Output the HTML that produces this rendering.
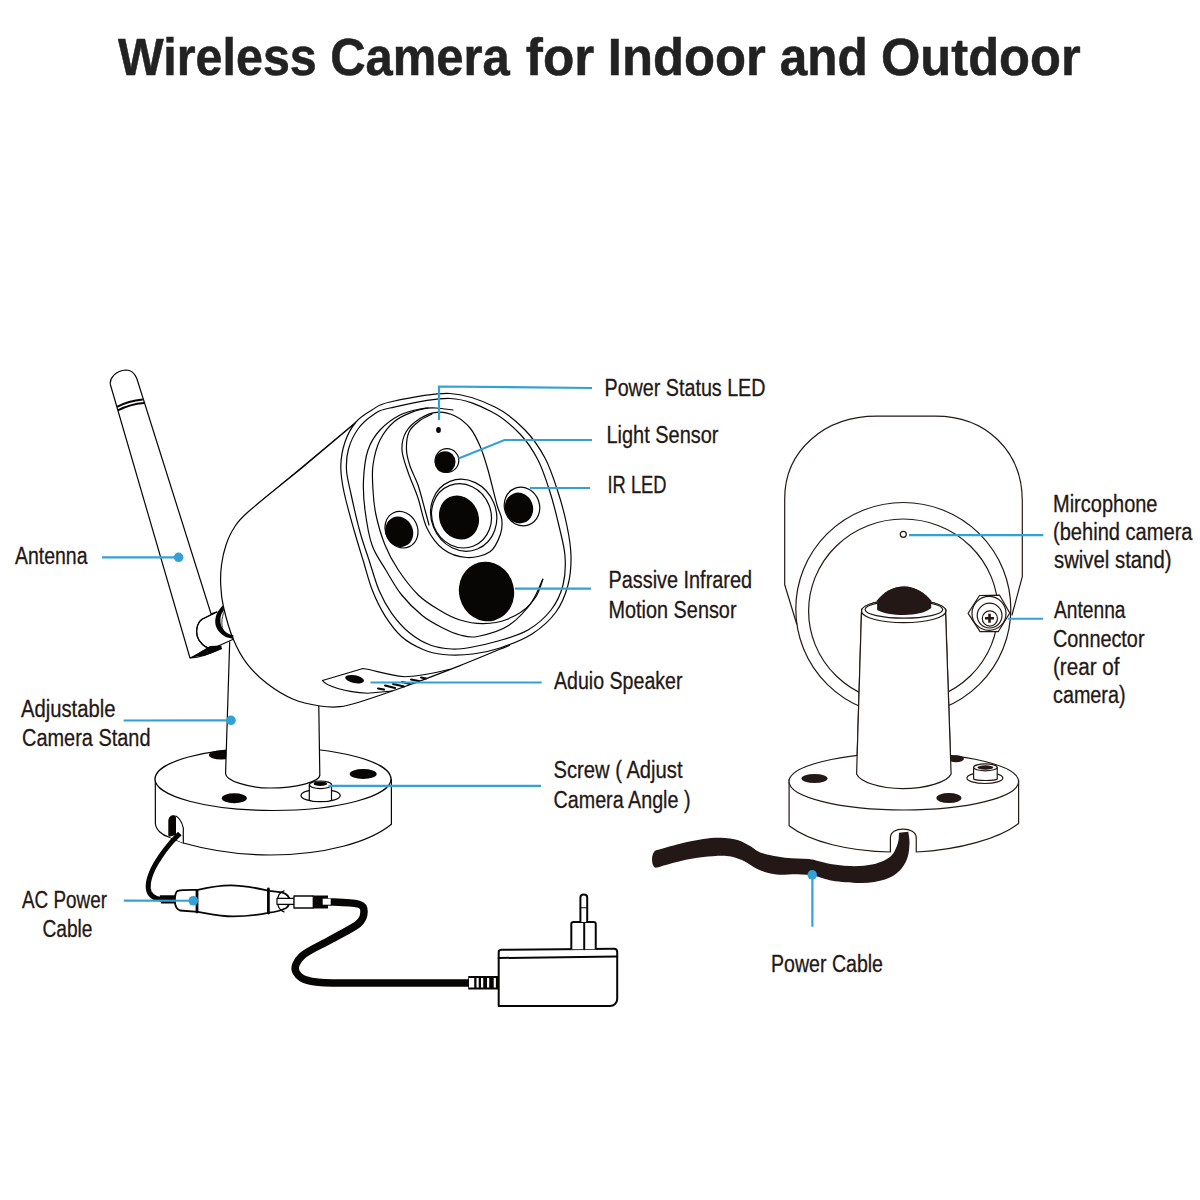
<!DOCTYPE html>
<html><head><meta charset="utf-8">
<style>
html,body{margin:0;padding:0;background:#fff;}
svg{display:block;}
.t{font-family:"Liberation Sans",sans-serif;font-size:23.5px;fill:#231815;stroke:#231815;stroke-width:0.3;}
.ttl{font-family:"Liberation Sans",sans-serif;font-weight:bold;font-size:51px;fill:#222;stroke:#222;stroke-width:0.5;}
.ld{stroke:#33a0d8;stroke-width:2.2;fill:none;}
.dot{fill:#33a0d8;}
.L{--c:#080505;}
.R{--c:#231815;}
.k{stroke:var(--c);fill:none;stroke-width:1.2;stroke-linecap:round;stroke-linejoin:round;}
.kw{stroke:var(--c);fill:#fff;stroke-width:1.2;stroke-linejoin:round;}
.k2{stroke:var(--c);fill:none;stroke-width:2;stroke-linecap:round;stroke-linejoin:round;}
.k2w{stroke:var(--c);fill:#fff;stroke-width:2;stroke-linejoin:round;}
.f{fill:var(--c);}
.w{fill:#fff;}
</style></head>
<body>
<svg width="1200" height="1200" viewBox="0 0 1200 1200">
<g class="ttl">
<text x="118.0" y="75" textLength="198.8" lengthAdjust="spacingAndGlyphs">Wireless</text>
<text x="330.2" y="75" textLength="179.6" lengthAdjust="spacingAndGlyphs">Camera</text>
<text x="525.8" y="75" textLength="68.4" lengthAdjust="spacingAndGlyphs">for</text>
<text x="607.8" y="75" textLength="158.0" lengthAdjust="spacingAndGlyphs">Indoor</text>
<text x="779.8" y="75" textLength="88.0" lengthAdjust="spacingAndGlyphs">and</text>
<text x="881.0" y="75" textLength="199.6" lengthAdjust="spacingAndGlyphs">Outdoor</text>
</g>
<g class="t">
<text x="604.5" y="395.6" textLength="161.0" lengthAdjust="spacingAndGlyphs">Power Status LED</text>
<text x="606.5" y="443.4" textLength="112.0" lengthAdjust="spacingAndGlyphs">Light Sensor</text>
<text x="607.5" y="492.5" textLength="59.0" lengthAdjust="spacingAndGlyphs">IR LED</text>
<text x="608.5" y="588.4" textLength="143.5" lengthAdjust="spacingAndGlyphs">Passive Infrared</text>
<text x="608.5" y="617.5" textLength="128.0" lengthAdjust="spacingAndGlyphs">Motion Sensor</text>
<text x="554.0" y="688.7" textLength="128.5" lengthAdjust="spacingAndGlyphs">Aduio Speaker</text>
<text x="553.5" y="778" textLength="129.0" lengthAdjust="spacingAndGlyphs">Screw ( Adjust</text>
<text x="553.5" y="807.5" textLength="137.0" lengthAdjust="spacingAndGlyphs">Camera Angle )</text>
<text x="1053.0" y="512.4" textLength="104.5" lengthAdjust="spacingAndGlyphs">Mircophone</text>
<text x="1053.0" y="540.2" textLength="139.5" lengthAdjust="spacingAndGlyphs">(behind camera</text>
<text x="1054.0" y="568.4" textLength="117.5" lengthAdjust="spacingAndGlyphs">swivel stand)</text>
<text x="1054.0" y="618" textLength="71.5" lengthAdjust="spacingAndGlyphs">Antenna</text>
<text x="1053.0" y="647" textLength="91.5" lengthAdjust="spacingAndGlyphs">Connector</text>
<text x="1053.0" y="675" textLength="66.5" lengthAdjust="spacingAndGlyphs">(rear of</text>
<text x="1053.0" y="703" textLength="72.5" lengthAdjust="spacingAndGlyphs">camera)</text>
<text x="15.0" y="563.6" textLength="72.5" lengthAdjust="spacingAndGlyphs">Antenna</text>
<text x="21.0" y="717" textLength="94.5" lengthAdjust="spacingAndGlyphs">Adjustable</text>
<text x="22.0" y="746" textLength="128.5" lengthAdjust="spacingAndGlyphs">Camera Stand</text>
<text x="22.0" y="907.6" textLength="85.0" lengthAdjust="spacingAndGlyphs">AC Power</text>
<text x="42.5" y="937" textLength="50.0" lengthAdjust="spacingAndGlyphs">Cable</text>
<text x="771.0" y="972.3" textLength="112.0" lengthAdjust="spacingAndGlyphs">Power Cable</text>
</g>
<g class="L">
<path class="kw" d="M155.3 778 L155.4 823.75 C156 830 162 835 169.2 837.3 L183.3 843 C215 852 240 855 270 855 C325 855 370 842 391.4 824.3 L391.4 778.8" />
<ellipse class="kw" cx="273" cy="779" rx="118" ry="31.5" />
<ellipse class="f" cx="221" cy="755" rx="12" ry="4.5" />
<ellipse class="f" cx="363.2" cy="774" rx="13.5" ry="5" />
<ellipse class="f" cx="234.3" cy="798.3" rx="12.5" ry="5" />
<path class="w" d="M169.5 837 L168.3 837 L168.3 821 C168.3 817 171 815.2 173.3 815.2 C176 815.2 178 816 181 819.5 C183 822.5 183.3 826 183.3 829 L183.3 843 Z" />
<path class="k" d="M175.8 816 C178 817 182 821 183.3 828 L183.3 843" />
<path class="f" d="M168.3 837 L168.3 821 C168.3 817 171 815.2 173.3 815.2 C176 815.2 176 817 176 820 L176 835 Z" />
<ellipse class="kw" cx="320.6" cy="795.5" rx="19.6" ry="6.2" />
<path class="w" d="M309.3 785 L309.3 799.5 C315 801.5 326 801.5 331.5 799.5 L331.5 785 Z" />
<path class="k" d="M309.3 785 L309.3 799.5 M331.5 799.5 L331.5 785" />
<ellipse class="kw" cx="320.5" cy="784.8" rx="11.1" ry="3.8" />
<ellipse class="f" cx="320.4" cy="783.7" rx="6.8" ry="2.3" />
<path class="w" d="M229.7 642 L225.6 772.3 C224 781 250 788 270 788 C295 788 321 782 319.8 774.5 L318.75 700 Z" />
<path class="k" d="M229.7 642 L225.6 772.3 C224 781 250 788 270 788 C295 788 321 782 319.8 774.5 L318.75 704" />
<path class="k" d="M356.7 421.7 L252 509 " />
<path class="kw" d="M356.7 421.7 L300 469.5 C291.3 476.6 259 502.2 248 512C237 521.8 237.7 522.5 234 528C230.3 533.5 228.1 538.8 226 545C223.9 551.2 222.4 558.3 221.5 565C220.6 571.7 220.4 578 220.7 585C221 592 221.4 598 223.5 607C225.6 616 229.4 629.9 233.3 639.3C237.2 648.7 241.1 656 246.7 663.3C252.3 670.6 258.9 677.3 266.7 683.3C274.5 689.3 284.4 695.5 293.3 699.3C302.2 703.1 312.2 704.8 320 706C327.8 707.2 333.7 707.3 340 706.7C346.3 706.1 347.2 705.9 358 702.5C368.8 699.1 388 692.6 405 686.5C422 680.4 442.5 672.5 460 665.6C477.5 658.7 501.7 648.4 510 645" />
<path class="kw" d="M190 658 L110.5 385 C109 378 116 370.5 126 370 C132 370 135 374 136.9 378.75 L211 613.7 L216.7 612 L202 619.3 C196 624 195 634 199.3 640.7 C203 646 208 648.7 212 648.7 L190 658 Z" />
<path class="k2" d="M117 406.8 C125 402.5 134 400.2 142.8 399.4" style="stroke-linecap:butt"/>
<path class="k2" d="M117.9 410.4 C126 406.3 135 403.8 144 403.1" style="stroke-linecap:butt"/>
<path class="k" d="M216.7 612 L202 619.3 C196 624 195 634 199.3 640.7 C203 646 208 648.7 212 648.7 L233.3 639.3" />
<path class="f" d="M222.7 605.3C221.7 606.8 217.9 611 216.7 614C215.5 617 215 620.4 215.3 623.3C215.6 626.2 217 629.1 218.7 631.3C220.4 633.5 222.9 635.5 225.3 636.7C227.7 637.9 232 638.4 233.3 638.7 L233.3 635.3C232.2 634.9 228.7 634.2 226.7 632.7C224.7 631.2 222.3 628.7 221.3 626C220.3 623.3 220.2 619.4 220.7 616.7C221.1 614 223.4 611.1 224 610 Z" />
<path class="k" d="M224.5 611 C221 618 221 627 224 632 C226 635 229 637 232 638" style="stroke-width:0.8"/>
<path class="f" d="M190.5 657.5 L210 646 L221.3 645.5 L221.8 649 L205 655.5 Z" />
<path class="k" d="M190.5 657.8 C200 658 212 653 221.5 648.5" />
<path class="kw" d="M390 402C403 399.2 432.5 392.7 450 393.5C467.5 394.3 482.5 400.9 495 407C507.5 413.1 516.7 421.5 525 430C533.3 438.5 539.5 447.7 545 458C550.5 468.3 554.3 480.7 558 492C561.7 503.3 564.8 515.3 567 526C569.2 536.7 570.8 546.2 571 556C571.2 565.8 570.5 575.7 568 585C565.5 594.3 562 603.8 556 612C550 620.2 541.3 628 532 634C522.7 640 509.8 644.7 500 648C490.2 651.3 482.4 652.9 473 654C463.6 655.1 451.7 655.3 443.3 654.5C434.9 653.7 429.4 652.2 422.5 649.2C415.6 646.2 407.9 642.3 401.7 636.7C395.4 631.1 389.9 623.4 385 615.8C380.1 608.1 376.2 600.1 372.5 590.8C368.8 581.5 366.1 570.1 363 560C359.9 549.9 357.2 541.3 354 530C350.8 518.7 346.2 502.7 344 492C341.8 481.3 340.6 474.3 340.8 466C341 457.7 342.5 449.3 345 442C347.5 434.7 351.5 427.3 356 422C360.5 416.7 366.3 413.3 372 410C377.7 406.7 377 404.8 390 402Z" />
<path class="k" d="M390 408C402.8 405.2 433 397.8 450 398.5C467 399.2 480.3 406.1 492 412C503.7 417.9 512.3 426 520 434C527.7 442 533 450.3 538 460C543 469.7 546.5 481 550 492C553.5 503 556.5 515.3 559 526C561.5 536.7 564.3 546.2 565 556C565.7 565.8 565.3 576 563 585C560.7 594 556.8 602.5 551 610C545.2 617.5 536.8 624.8 528 630C519.2 635.2 507.7 638.1 498 641C488.3 643.9 477.7 646.2 470 647.5C462.3 648.8 458.2 649.4 451.7 649C445.2 648.6 437.8 647.9 430.8 645.3C423.9 642.7 416.5 638.6 410 633.3C403.5 628 396.8 620.4 391.7 613.3C386.6 606.2 383 599.7 379.2 590.8C375.4 581.9 372.2 569.8 369 560C365.8 550.2 363 543 360 532C357 521 353.2 504.3 351 494C348.8 483.7 346.9 477.5 346.5 470C346.1 462.5 346.6 455.8 348.5 449C350.4 442.2 353.9 434.7 358 429C362.1 423.3 367.7 418.5 373 415C378.3 411.5 377.2 410.8 390 408Z" />
<path class="k" d="M453 410C450.2 409.7 441.5 408.2 436 408C430.5 407.8 426 407.8 420 409C414 410.2 406.7 411.5 400 415C393.3 418.5 385.3 424.2 380 430C374.7 435.8 370.8 441.7 368 450C365.2 458.3 364 470 363.5 480C363 490 363.6 499.2 365 510C366.4 520.8 368.5 535 372 545C375.5 555 380.9 561.7 385.8 570C390.8 578.3 395.6 587.4 401.7 595C407.8 602.6 415.6 610.2 422.5 615.8C429.4 621.3 437.1 625.1 443.3 628.3C449.6 631.5 454.3 633.6 460 635C465.7 636.4 469.3 638.1 477.5 636.5C485.7 634.9 499.5 631.6 509 625.3C518.5 619 529.1 606.2 534.7 598.5C540.3 590.8 541.4 582.5 542.8 579.2" />
<path class="k" d="M428 408C425.8 408.5 420.5 408.8 415 411C409.5 413.2 400.8 416.2 395 421C389.2 425.8 383.7 432.7 380 440C376.3 447.3 374.2 456.7 373 465C371.8 473.3 372.5 481.7 373 490C373.5 498.3 374 505.8 376 515C378 524.2 381.3 535.8 385 545C388.7 554.2 392.8 561.7 398.3 570C403.9 578.3 411.5 588.3 418.3 595C425.1 601.7 432.2 605.8 439.2 610C446.1 614.2 452.6 617.7 460 620C467.4 622.3 475.5 623.7 483.3 623.6C491.1 623.5 498.9 622.7 506.7 619.5C514.5 616.3 524 611 530 604.3C536 597.6 540.7 583.4 542.8 579.2" />
<path class="k" d="M437 412.3C442.8 411.9 449.5 413.4 455 416C460.5 418.6 465.8 423 470 428C474.2 433 477 439 480 446C483 453 485.2 460.2 488 470C490.8 479.8 494.7 496.8 497 505C499.3 513.2 501.1 514.2 501.7 519C502.3 523.8 502.4 528.5 500.5 534C498.6 539.5 495.6 547.8 490 551.7C484.4 555.6 474.5 557.9 466.7 557.5C458.9 557.1 449.9 554.2 443.3 549.3C436.7 544.4 431.2 536.8 427 528.3C422.8 519.8 421.2 507.4 418 498C414.8 488.6 410.7 480 408 472C405.3 464 402.3 456.7 402 450C401.7 443.3 403 437.2 406 432C409 426.8 414.8 421.8 420 418.5C425.2 415.2 431.2 412.7 437 412.3Z" />
<path class="k" d="M432 414C430 415.1 423.8 417.5 420 420.5C416.2 423.5 411.2 427.1 409 432C406.8 436.9 406.3 444.3 406.5 450C406.7 455.7 408.1 460.2 410 466C411.9 471.8 415.5 477.7 418 485C420.5 492.3 423.2 503.3 425 510C426.8 516.7 428.3 522.5 429 525" />
<ellipse class="k" cx="463.7" cy="515.2" rx="32.5" ry="36.5" transform="rotate(-22 463.7 515.2)" />
<ellipse class="k" cx="461.5" cy="515.8" rx="29.5" ry="32.5" transform="rotate(-22 461.5 515.8)" />
<ellipse class="f" cx="459" cy="517.5" rx="19.5" ry="22.5" transform="rotate(-25 459 517.5)" />
<ellipse class="k" cx="447" cy="460.5" rx="11.8" ry="11.8" />
<ellipse class="f" cx="445" cy="462" rx="10.5" ry="10.8" />
<ellipse class="f" cx="438.5" cy="430" rx="2.4" ry="3" />
<ellipse class="k" cx="522" cy="506.5" rx="17.5" ry="19.5" transform="rotate(-20 522 506.5)" />
<ellipse class="f" cx="519" cy="508" rx="14" ry="15.5" transform="rotate(-20 519 508)" />
<ellipse class="k" cx="401.5" cy="529.7" rx="16" ry="18.7" transform="rotate(-25 401.5 529.7)" />
<ellipse class="f" cx="399.2" cy="531.8" rx="13.7" ry="15.5" transform="rotate(-25 399.2 531.8)" />
<ellipse class="f" cx="486.5" cy="591.5" rx="27.5" ry="30" transform="rotate(-15 486.5 591.5)" />
<path class="k" d="M322.5 680.5 L363 668.5 C375 670 385 675 405 676.75 C420 676 435 673 450 669.25 M322.5 680.5 C326 686 345 692 367.5 693.25 L392 691" />
<ellipse class="f" cx="354.6" cy="679.2" rx="9.6" ry="3.9" transform="rotate(11 354.6 679.2)" />
<path class="k2" d="M378 688.5 L384 689.5" />
<path class="k2" d="M385 685.5 L395 688" />
<path class="k2" d="M393 684 L404 686.5" />
<path class="k2" d="M402 682 L410 684" />
<path class="k2" d="M411 679.5 L419 681" />
<path class="k2" d="M421 677.5 L426 678.5" />
<path class="k" d="M179.8 833.5C178.2 835.2 173.5 839.7 170.3 843.5C167.1 847.3 163.4 852 160.5 856.3C157.6 860.5 155 864.6 153 869C151 873.4 149.1 878.6 148.5 882.5C147.9 886.4 148.1 889.7 149.3 892.3C150.6 894.9 153.4 897.1 156 898.3C158.6 899.5 161.7 899.2 165 899.4C168.3 899.6 174.2 899.4 176 899.4" style="stroke-width:5;stroke-linecap:butt"/>
<path class="f" d="M159.8 895.3 L175 895.3 L175 903.5 L161 903.5 Z" />
<path class="kw" d="M177.7 890.8 C183 889.5 190 889.8 197.8 889.8 C210 887 220 885.3 230.8 885.3 C245 885.3 258 888.5 269.3 890.8 L282 892.4 C287 894 289.5 897 289.5 900.5 C289.5 904 288 907 285.8 908.2 C280 911 275 912 269.3 912.7 C258 915 245 916.4 232.7 916.4 C220 916.4 208 913.5 197.8 911.8 L180 910.5 C176 909 174.9 905 174.9 900.8 C174.9 896 175.5 892 177.7 890.8 Z" style="stroke-width:1.8"/>
<path class="k" d="M197 891 L197 912" style="stroke-width:2.8"/>
<path class="k" d="M268.4 889 L268.4 913" style="stroke-width:2.8"/>
<path class="k" d="M284 890.8 C280 892 277.5 896 277.5 901.3 C277.5 906.5 280 910.5 284 911.8" style="stroke-width:1.3"/>
<path class="kw" d="M277 898.3 L294.3 898.3 L294.3 904.3 L277 904.3 Z" style="stroke-width:1.2"/>
<path class="kw" d="M294 896 L313.3 896 L313.3 908 L294 908 Z" style="stroke-width:1.3"/>
<path class="f" d="M313.3 895.5 L328 895.5 L328 908.5 L313.3 908.5 Z" />
<path class="k" d="M327 901.7C332.2 902.1 351.8 902.3 358 904C364.2 905.7 364 908.7 364 912C364 915.3 363.7 919.3 358 924C352.3 928.7 339.3 934.7 330 940C320.7 945.3 307.7 950.7 302 956C296.3 961.3 293.7 967.7 296 972C298.3 976.3 302 980.2 316 982C330 983.8 354.3 982.8 380 983C405.7 983.2 455 983 470 983" style="stroke-width:7.5;stroke-linecap:butt"/>
<path class="w" d="M322.7 898.7 L330.7 898.7 L330.7 904.7 L322.7 904.7 Z" />
<path class="f" d="M468.25 976 L498.7 976 L498.7 989.5 L468.25 989.5 Z" />
<rect class="w" x="469" y="978" width="5.2" height="9.5"/>
<rect class="w" x="476.5" y="978" width="2.2" height="9.5"/>
<rect class="w" x="481" y="978" width="2.2" height="9.5"/>
<rect class="w" x="487" y="978" width="2.2" height="9.5"/>
<rect class="w" x="493.7" y="978" width="2.2" height="9.5"/>
<path class="k2w" d="M498.7 952 C498.7 950.5 500 949.75 502 949.75 L614 948.7 C616 948.7 617.2 950 617.2 952 L617.2 999 C617.2 1003 614 1006 610 1006 L498.7 1006 Z" />
<path class="k2" d="M498.7 958 L617.2 956.5" />
<path class="k2w" d="M571.3 949.3 L571.3 924 C571.3 922.5 572 922 573.5 922 L593.5 922 C595 922 595.75 922.5 595.75 924 L595.75 949.3" />
<path class="k2" d="M584.2 922 L584.2 949.3" />
<path class="k2w" d="M580.4 922 L580.4 897.5 C580.4 893.5 587.2 893.5 587.2 897.5 L587.2 922" />
<path class="k" d="M580.4 907.75 L587.2 907.75" />
</g>
<g class="R">
<path class="k" d="M796.7 624 L784.7 584.7 L784.7 498.7 C784.7 450 825 416.2 876.7 416.2 L935.3 416.2 C985 416.2 1022.3 450 1022.3 501 L1022.3 576.7 L1012 615" />
<ellipse class="k" cx="903.3" cy="609" rx="107.5" ry="106.5" />
<ellipse class="k" cx="903.3" cy="611" rx="94.7" ry="92" />
<ellipse class="k" cx="903.3" cy="534.3" rx="3" ry="3" />
<path class="kw" d="M861.5 612 L856.6 774 C860 782 880 788.6 902.75 788.6 C925 788.6 948 782 951.1 774 L945.5 610.5" />
<ellipse class="kw" cx="903.7" cy="611" rx="42.2" ry="11.7" />
<ellipse class="k" cx="903.9" cy="609.5" rx="38.8" ry="8.6" />
<path class="f" d="M877.1 609.9 L877.1 600.5 C884 592 893 586.5 904.1 586.5 C915 586.5 925 593 931.2 600.7 L931.2 608 C925 613 915 614.9 904.1 614.9 C893 614.9 882 613 877.1 609.9 Z" />
<path class="kw" d="M979.5 595.5 L999.6 595.2 L1009.8 613 L998.2 631.7 L980.1 631.7 L968.1 613.3Z" />
<ellipse class="k" cx="989" cy="613.4" rx="17" ry="17" />
<ellipse class="k" cx="989.6" cy="615.6" rx="12.4" ry="12.4" />
<ellipse class="k" cx="989.9" cy="618.5" rx="7.6" ry="7.6" />
<path class="k" d="M985 618.3 L994 618.3 M989.5 613.8 L989.5 622.8" style="stroke-width:2.6;stroke-linecap:butt"/>
<path class="kw" d="M789.1 779.6 L789.1 825.75 C810 842 850 851.5 890.4 852 L890.4 838 C890.4 832 896 829.1 903 829.1 C910 829.1 916.25 832 916.25 838 L916.25 852 C960 850 1000 838 1018.6 823.5 L1018.6 779.6" />
<ellipse class="kw" cx="903.8" cy="781.6" rx="114.8" ry="28.4" />
<ellipse class="f" cx="814.5" cy="778.5" rx="13" ry="4.5" />
<ellipse class="f" cx="948.9" cy="798.1" rx="12.5" ry="5" />
<ellipse class="f" cx="956" cy="758.7" rx="8" ry="3.5" />
<ellipse class="kw" cx="984.9" cy="778" rx="18" ry="5.5" />
<path class="kw" d="M973.6 767.3 L973.6 779 C976 781 995 781 997.25 779 L997.25 767.3" />
<ellipse class="kw" cx="985.4" cy="767.3" rx="11.8" ry="3.5" />
<ellipse class="f" cx="985.4" cy="767.5" rx="8" ry="2.2" />
<path class="kw" d="M861.5 612 L856.6 774 C860 782 880 788.6 902.75 788.6 C925 788.6 948 782 951.1 774 L945.5 610.5" />
<ellipse class="kw" cx="903.7" cy="611" rx="42.2" ry="11.7" />
<ellipse class="k" cx="903.9" cy="609.5" rx="38.8" ry="8.6" />
<path class="f" d="M877.1 609.9 L877.1 600.5 C884 592 893 586.5 904.1 586.5 C915 586.5 925 593 931.2 600.7 L931.2 608 C925 613 915 614.9 904.1 614.9 C893 614.9 882 613 877.1 609.9 Z" />
<path class="f" d="M656.7 850.1C660.6 849 672.2 845.6 680 843.7C687.8 841.9 696.5 840 703.3 839C710.1 838 715 837.6 720.8 837.8C726.6 838 733.4 838.8 738.3 840.2C743.2 841.6 746.1 843.9 750 846C753.9 848.1 755.9 851 761.7 853C767.5 855 777.1 856.7 785 857.7C792.9 858.7 802.2 858.2 809.2 859.1C816.2 860 819.9 862 826.7 863.2C833.5 864.4 842.2 865.9 850 866.1C857.8 866.3 866.5 865.9 873.3 864.3C880.1 862.6 886.7 859.7 890.8 856.2C894.9 852.7 896.4 847.2 897.8 843.3C899.2 839.4 898.8 834.5 899 832.8 L908.3 831.7C908.5 833.6 909.7 838.8 909.5 843.3C909.3 847.8 909 853.8 907.2 858.5C905.5 863.2 902.7 867.8 899 871.3C895.3 874.8 891.2 877.5 885 879.5C878.8 881.5 870.5 882.8 861.7 883C853 883.2 840.3 881.9 832.5 880.7C824.7 879.5 820.8 877.1 815 876C809.2 874.9 803.3 874.5 797.5 874.2C791.7 874 785 874.9 780 874.7C775 874.5 771.5 873.9 767.5 872.8C763.5 871.7 760.1 870.3 755.8 868.2C751.5 866.1 746.6 862 741.8 860C736.9 858 733.1 856.4 726.7 855.9C720.3 855.4 711.1 856.2 703.3 857.1C695.5 858 687.8 859.5 680 861.2C672.2 863 660.6 866.5 656.7 867.6 C651 869 650 852 656.7 850.1 Z" />
</g>
<path class="ld" d="M439 420 L439 386.5 L592 388" />
<path class="ld" d="M458.5 458.5 L504.5 440 L592 440" />
<path class="ld" d="M530 488 L590 488" />
<path class="ld" d="M514.8 588.6 L591 588.6" />
<path class="ld" d="M370.5 682.5 L541.7 682.5" />
<path class="ld" d="M328.5 785.8 L541 785.8" />
<path class="ld" d="M102 557.4 L178.6 557.4" />
<path class="ld" d="M123.6 720.5 L231 720.3" />
<path class="ld" d="M123.8 900.6 L193.4 900.75" />
<path class="ld" d="M909 535.2 L1043.3 535.2" />
<path class="ld" d="M1007.75 618.75 L1043 618.75" />
<path class="ld" d="M812.4 875 L812.4 926.7" />
<circle class="dot" cx="178.6" cy="557.3" r="4.8"/>
<circle class="dot" cx="231" cy="720.3" r="4.8"/>
<circle class="dot" cx="193.3" cy="900.75" r="4.8"/>
<circle class="dot" cx="812.2" cy="874.8" r="4.8"/>
</svg>
</body></html>
